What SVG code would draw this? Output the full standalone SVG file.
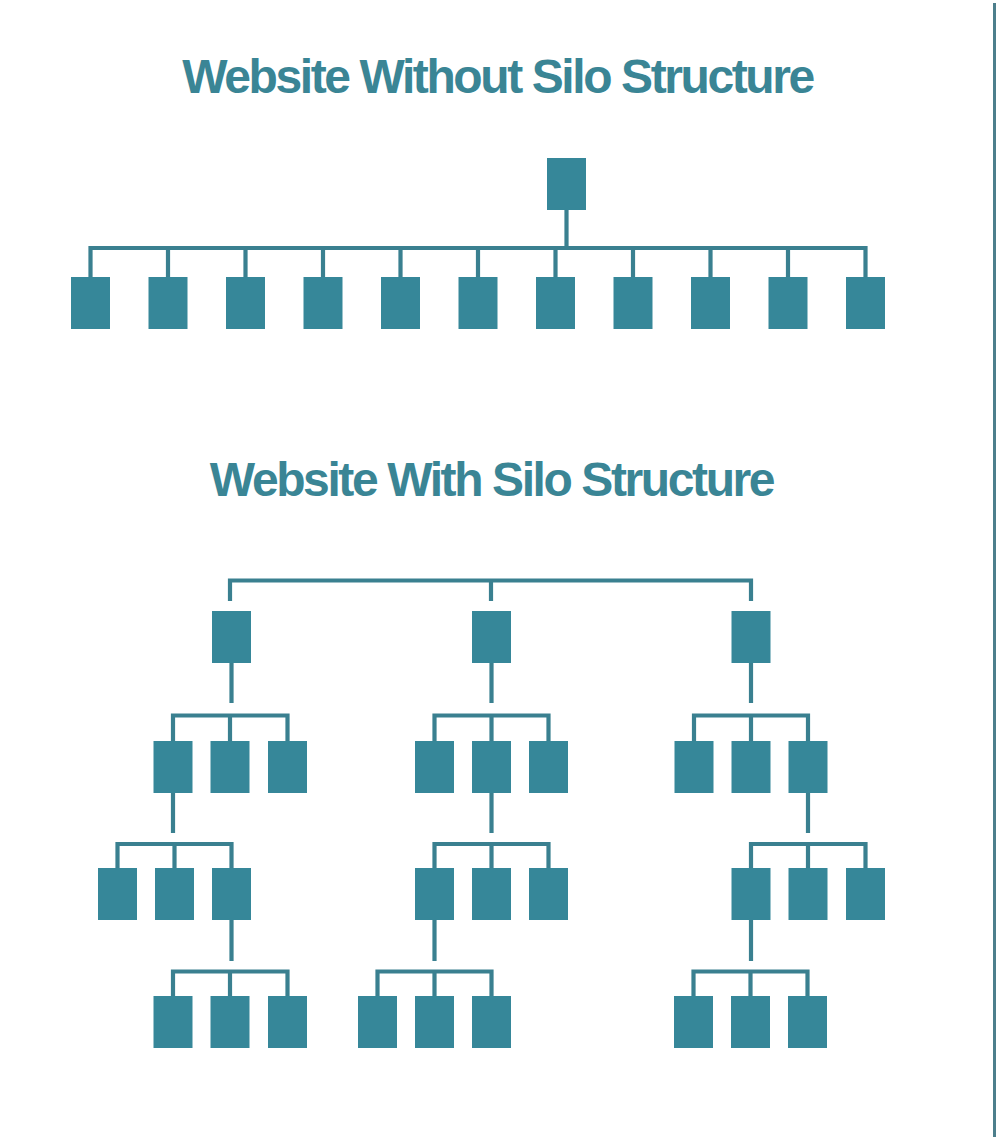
<svg xmlns="http://www.w3.org/2000/svg" width="996" height="1137" viewBox="0 0 996 1137">
<style>
.title{font-family:"Liberation Sans",Arial,sans-serif;font-weight:bold;font-size:48px;letter-spacing:-2.4px;fill:#3a8595;text-anchor:middle}
.n{fill:#368799}
.c{fill:none;stroke:#3a8090;stroke-width:4.2;stroke-linejoin:miter;stroke-linecap:butt}
</style>
<defs>
<rect id="box" class="n" x="-19.5" y="0" width="39" height="52"/>
</defs>
<rect x="0" y="0" width="996" height="1137" fill="#ffffff"/>
<line x1="994.5" y1="3" x2="994.5" y2="1137" stroke="#4d7f8c" stroke-width="3"/>
<text class="title" x="497.5" y="93">Website Without Silo Structure</text>
<text class="title" x="491.5" y="496">Website With Silo Structure</text>

<g id="connectors">
<!-- top tree -->
<path class="c" d="M566.5 210 V248"/>
<path class="c" d="M90.5 277 V248 H865.5 V277"/>
<path class="c" d="M168 248 V277 M245.5 248 V277 M323 248 V277 M400.5 248 V277 M478 248 V277 M555.5 248 V277 M633 248 V277 M710.5 248 V277 M788 248 V277"/>
<!-- bottom tree root bar -->
<path class="c" d="M230 601 V580.5 H751 V601 M491 580.5 V601"/>
<!-- left column -->
<path class="c" d="M231.5 663 V703"/>
<path class="c" d="M173 741 V715.5 H287.5 V741 M230 715.5 V741"/>
<path class="c" d="M173 793 V833"/>
<path class="c" d="M117.5 868 V844 H231.5 V868 M174.5 844 V868"/>
<path class="c" d="M231.5 920 V961"/>
<path class="c" d="M173 996 V971.5 H287.5 V996 M230 971.5 V996"/>
<!-- middle column -->
<path class="c" d="M491.5 663 V703"/>
<path class="c" d="M434.5 741 V715.5 H548.5 V741 M491.5 715.5 V741"/>
<path class="c" d="M491.5 793 V833"/>
<path class="c" d="M434.5 868 V844 H548.5 V868 M491.5 844 V868"/>
<path class="c" d="M434.5 920 V961"/>
<path class="c" d="M377.5 996 V971.5 H491.5 V996 M434.5 971.5 V996"/>
<!-- right column -->
<path class="c" d="M751 663 V703"/>
<path class="c" d="M694 741 V715.5 H808 V741 M751 715.5 V741"/>
<path class="c" d="M808 793 V833"/>
<path class="c" d="M751 868 V844 H865.5 V868 M808 844 V868"/>
<path class="c" d="M751 920 V961"/>
<path class="c" d="M693.5 996 V971.5 H807.5 V996 M750.5 971.5 V996"/>
</g>

<!-- top tree nodes -->
<g id="t-root"><use href="#box" x="566.5" y="158"/></g>
<g id="t-c1"><use href="#box" x="90.5" y="277"/></g>
<g id="t-c2"><use href="#box" x="168" y="277"/></g>
<g id="t-c3"><use href="#box" x="245.5" y="277"/></g>
<g id="t-c4"><use href="#box" x="323" y="277"/></g>
<g id="t-c5"><use href="#box" x="400.5" y="277"/></g>
<g id="t-c6"><use href="#box" x="478" y="277"/></g>
<g id="t-c7"><use href="#box" x="555.5" y="277"/></g>
<g id="t-c8"><use href="#box" x="633" y="277"/></g>
<g id="t-c9"><use href="#box" x="710.5" y="277"/></g>
<g id="t-c10"><use href="#box" x="788" y="277"/></g>
<g id="t-c11"><use href="#box" x="865.5" y="277"/></g>

<!-- left silo -->
<g id="l-1"><use href="#box" x="231.5" y="611"/></g>
<g id="l-2a"><use href="#box" x="173" y="741"/></g>
<g id="l-2b"><use href="#box" x="230" y="741"/></g>
<g id="l-2c"><use href="#box" x="287.5" y="741"/></g>
<g id="l-3a"><use href="#box" x="117.5" y="868"/></g>
<g id="l-3b"><use href="#box" x="174.5" y="868"/></g>
<g id="l-3c"><use href="#box" x="231.5" y="868"/></g>
<g id="l-4a"><use href="#box" x="173" y="996"/></g>
<g id="l-4b"><use href="#box" x="230" y="996"/></g>
<g id="l-4c"><use href="#box" x="287.5" y="996"/></g>

<!-- middle silo -->
<g id="m-1"><use href="#box" x="491.5" y="611"/></g>
<g id="m-2a"><use href="#box" x="434.5" y="741"/></g>
<g id="m-2b"><use href="#box" x="491.5" y="741"/></g>
<g id="m-2c"><use href="#box" x="548.5" y="741"/></g>
<g id="m-3a"><use href="#box" x="434.5" y="868"/></g>
<g id="m-3b"><use href="#box" x="491.5" y="868"/></g>
<g id="m-3c"><use href="#box" x="548.5" y="868"/></g>
<g id="m-4a"><use href="#box" x="377.5" y="996"/></g>
<g id="m-4b"><use href="#box" x="434.5" y="996"/></g>
<g id="m-4c"><use href="#box" x="491.5" y="996"/></g>

<!-- right silo -->
<g id="r-1"><use href="#box" x="751" y="611"/></g>
<g id="r-2a"><use href="#box" x="694" y="741"/></g>
<g id="r-2b"><use href="#box" x="751" y="741"/></g>
<g id="r-2c"><use href="#box" x="808" y="741"/></g>
<g id="r-3a"><use href="#box" x="751" y="868"/></g>
<g id="r-3b"><use href="#box" x="808" y="868"/></g>
<g id="r-3c"><use href="#box" x="865.5" y="868"/></g>
<g id="r-4a"><use href="#box" x="693.5" y="996"/></g>
<g id="r-4b"><use href="#box" x="750.5" y="996"/></g>
<g id="r-4c"><use href="#box" x="807.5" y="996"/></g>
</svg>
